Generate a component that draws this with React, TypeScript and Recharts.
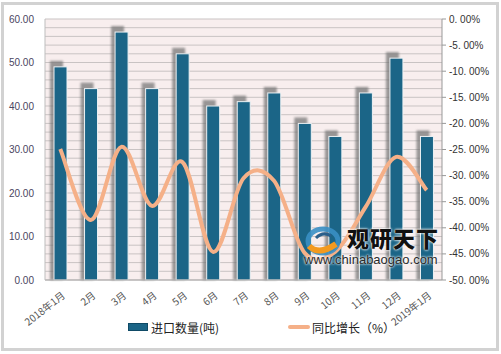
import { ComposedChart, Bar, Line, XAxis, YAxis, CartesianGrid, Legend } from 'recharts';

const months = ['2018年1月', '2月', '3月', '4月', '5月', '6月', '7月', '8月', '9月', '10月', '11月', '12月', '2019年1月'];
const importVolume = [49, 44, 57, 44, 52, 40, 41, 43, 36, 33, 43, 51, 33];
const yoyGrowth = [-24.9, -38.5, -24.5, -35.8, -27.4, -44.6, -30.5, -31.0, -44.8, -44.6, -36.0, -26.4, -32.8];

const leftTicks = [0, 10, 20, 30, 40, 50, 60];
const rightTicks = [0, -5, -10, -15, -20, -25, -30, -35, -40, -45, -50];
const gridValues = [0, 2, 4, 6, 8, 10, 12, 14, 16, 18, 20, 22, 24, 26, 28, 30, 32, 34, 36, 38, 40, 42, 44, 46, 48, 50, 52, 54, 56, 58, 60];

const BAR_COLOR = '#1B6587';
const LINE_COLOR = '#F5B088';
const CJK = '"Noto Sans CJK SC", "Noto Sans", sans-serif';

const data = months.map((m, i) => ({ month: m, volume: importVolume[i], growth: yoyGrowth[i] }));

// excel style smoothed line (catmull-rom through the points)
const smoothCurve = (context: any) => {
  let pts: number[][] = [];
  return {
    areaStart() {},
    areaEnd() {},
    lineStart() {
      pts = [];
    },
    point(x: number, y: number) {
      pts.push([+x, +y]);
    },
    lineEnd() {
      const n = pts.length;
      if (!n) return;
      context.moveTo(pts[0][0], pts[0][1]);
      for (let i = 0; i < n - 1; i++) {
        const p0 = pts[Math.max(i - 1, 0)];
        const p1 = pts[i];
        const p2 = pts[i + 1];
        const p3 = pts[Math.min(i + 2, n - 1)];
        context.bezierCurveTo(
          p1[0] + (p2[0] - p0[0]) / 6,
          p1[1] + (p2[1] - p0[1]) / 6,
          p2[0] - (p3[0] - p1[0]) / 6,
          p2[1] - (p3[1] - p1[1]) / 6,
          p2[0],
          p2[1],
        );
      }
    },
  };
};

// minor gridlines every 2 units of the left axis
const gridGenerator = (props: any) => {
  const { yAxis, offset } = props;
  if (yAxis && typeof yAxis.scale === 'function') {
    return gridValues.map((v) => yAxis.scale(v));
  }
  return gridValues.map((v) => offset.top + offset.height * (1 - v / 60));
};

// bar with the grey blurred shadow at the upper left
const ShadowBar = (props: any) => {
  const { x, y, width, height } = props;
  if (!height || height <= 0) return null;
  return (
    <g>
      <rect x={x - 4} y={y - 6} width={width} height={height + 6} fill="#6f6f6f" opacity={0.7} filter="url(#barBlur)" />
      <rect x={x} y={y} width={width} height={height} fill={BAR_COLOR} stroke="#eef2f4" strokeWidth={1} />
    </g>
  );
};

const MonthTick = (props: any) => {
  const { x, y, payload } = props;
  return (
    <g transform={`translate(${x + 2},${y + 4})`}>
      <text x={0} y={0} dy={6} textAnchor="end" fill="#555" fontSize={10} fontFamily={CJK} transform="rotate(-38)">
        {payload.value}
      </text>
    </g>
  );
};

const LegendContent = () => (
  <div style={{ position: 'relative', height: 20, fontFamily: CJK, fontSize: 12, color: '#222' }}>
    <div style={{ position: 'absolute', left: 128, top: 0, display: 'flex', alignItems: 'center', height: 20, whiteSpace: 'nowrap' }}>
      <span style={{ display: 'inline-block', width: 18, height: 6, background: BAR_COLOR, border: '1px solid #0f4a66', marginRight: 3 }} />
      <span>进口数量(吨)</span>
    </div>
    <div style={{ position: 'absolute', left: 288, top: 0, display: 'flex', alignItems: 'center', height: 20, whiteSpace: 'nowrap' }}>
      <span style={{ display: 'inline-block', width: 22, height: 4, borderRadius: 2, background: LINE_COLOR, marginRight: 2 }} />
      <span>同比增长（%）</span>
    </div>
  </div>
);

export default function App() {
  return (
    <div style={{ position: 'absolute', left: 0, top: 0, width: 501, height: 354, background: '#fff', overflow: 'hidden' }}>
      <ComposedChart width={501} height={354} data={data} margin={{ top: 19, right: 0, left: 0, bottom: 34 }} barSize={13}>
        <defs>
          <filter id="barBlur" x="-50%" y="-10%" width="200%" height="120%">
            <feGaussianBlur stdDeviation="1.1" />
          </filter>
        </defs>
        <CartesianGrid
          yAxisId="left"
          vertical={false}
          horizontalCoordinatesGenerator={gridGenerator}
          fill="#F8EEEE"
          fillOpacity={1}
          stroke="#C9C3C3"
          strokeWidth={1}
        />
        <XAxis
          dataKey="month"
          interval={0}
          height={40}
          tick={<MonthTick />}
          tickLine={false}
          axisLine={{ stroke: '#a9a9a9' }}
        />
        <YAxis
          yAxisId="left"
          width={45}
          domain={[0, 60]}
          ticks={leftTicks}
          tickFormatter={(v: number) => v.toFixed(2)}
          tick={{ fill: '#4a4560', fontSize: 10, fontFamily: 'Liberation Sans, Arial, sans-serif' }}
          tickLine={false}
          tickMargin={5}
          axisLine={{ stroke: '#bdbdbd' }}
        />
        <YAxis
          yAxisId="right"
          orientation="right"
          width={59}
          domain={[-50, 0]}
          ticks={rightTicks}
          tickFormatter={(v: number) => v.toFixed(2).replace('.', '. ') + '%'}
          tick={{ fill: '#333', fontSize: 10, fontFamily: 'Liberation Sans, Arial, sans-serif', textAnchor: 'start' }}
          tickSize={4}
          tickMargin={3}
          tickLine={{ stroke: '#999' }}
          axisLine={{ stroke: '#999' }}
        />
        <Bar yAxisId="left" dataKey="volume" name="进口数量(吨)" shape={<ShadowBar />} isAnimationActive={false} />
        <Line
          yAxisId="right"
          type={smoothCurve as any}
          dataKey="growth"
          name="同比增长（%）"
          stroke={LINE_COLOR}
          strokeWidth={4}
          dot={false}
          activeDot={false}
          isAnimationActive={false}
        />
        <Legend
          verticalAlign="middle"
          align="center"
          layout="horizontal"
          content={<LegendContent />}
          wrapperStyle={{ top: 317, left: 0, width: 501, height: 20 }}
        />
      </ComposedChart>

      {/* watermark */}
      <div style={{ position: 'absolute', left: 302, top: 223, width: 140, height: 48, pointerEvents: 'none' }}>
        <svg width={38} height={32} style={{ position: 'absolute', left: 2, top: 2 }}>
          <ellipse cx={19} cy={16} rx={15} ry={12} fill="none" stroke="#3a8fc4" strokeWidth={5} opacity={0.9} />
          <path d="M5 21 Q15 31 32 19" fill="none" stroke="#f39a1f" strokeWidth={6} />
          <path d="M12 13 Q19 6 27 11" fill="none" stroke="#2b5f8a" strokeWidth={3} />
        </svg>
        <div style={{ position: 'absolute', left: 45, top: 0, fontFamily: CJK, fontWeight: 900, fontSize: 22, letterSpacing: 1, color: '#111', textShadow: '0 0 3px #fff, 0 0 2px #fff', whiteSpace: 'nowrap', lineHeight: '28px' }}>
          观研天下
        </div>
        <div style={{ position: 'absolute', left: 2, top: 28, fontFamily: 'Liberation Sans, Arial, sans-serif', fontSize: 13, color: '#2a2a2a', textShadow: '0 0 3px #fff, 0 0 2px #fff', whiteSpace: 'nowrap', lineHeight: '17px' }}>
          www.chinabaogao.com
        </div>
      </div>

      {/* frame */}
      <div style={{ position: 'absolute', left: 1, top: 2, width: 498, height: 349, border: '3px solid #d2d2d2', boxSizing: 'border-box', pointerEvents: 'none' }} />
    </div>
  );
}
